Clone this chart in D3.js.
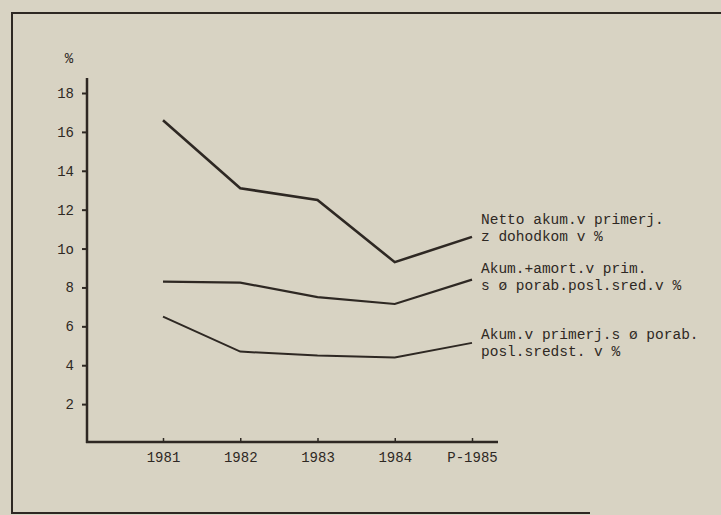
<!DOCTYPE html>
<html><head><meta charset="utf-8">
<script src="https://cdn.jsdelivr.net/npm/d3@7"></script>
<style>
html,body{margin:0;padding:0;background:#d8d3c3;}
svg{display:block;}
text{font-family:"Liberation Mono","DejaVu Sans Mono",monospace;fill:#2e2823;}
</style></head>
<body>
<svg id="chart" width="721" height="515"></svg>
<script>
const years = ["1981","1982","1983","1984","P-1985"];
const yTickValues = [2,4,6,8,10,12,14,16,18];
const yTickLabels = ["2","4","6","8","1o","12","14","16","18"];
const seriesNetto = [16.6, 13.1, 12.5, 9.3, 10.6];
const seriesAmort = [8.3, 8.25, 7.5, 7.15, 8.4];
const seriesAkum  = [6.5, 4.7, 4.5, 4.4, 5.15];
const labelNetto = ["Netto akum.v primerj.", "z dohodkom v %"];
const labelAmort = ["Akum.+amort.v prim.", "s ø porab.posl.sred.v %"];
const labelAkum  = ["Akum.v primerj.s ø porab.", "posl.sredst. v %"];

const svg = d3.select("#chart");
const ink = "#2e2823";

// frame
svg.append("path").attr("d","M721,13 L12,13 L12,513 L590,513")
  .attr("fill","none").attr("stroke",ink).attr("stroke-width",2);

const x = d3.scalePoint().domain(years).range([163,472]);
const y = d3.scaleLinear().domain([0,18]).range([443,93]);

// y axis
svg.append("line").attr("x1",87).attr("x2",87).attr("y1",78).attr("y2",443)
  .attr("stroke",ink).attr("stroke-width",2.5);
// x axis
svg.append("line").attr("x1",86).attr("x2",498).attr("y1",442).attr("y2",442)
  .attr("stroke",ink).attr("stroke-width",2.5);

const yAxis = d3.axisLeft(y).tickValues(yTickValues)
  .tickFormat((d,i)=>yTickLabels[i]).tickSize(5).tickPadding(8);
const gy = svg.append("g").attr("transform","translate(87,0)").call(yAxis);
gy.select(".domain").remove();
gy.selectAll(".tick line").attr("stroke",ink).attr("stroke-width",2);
gy.selectAll(".tick text").attr("font-size","14px").attr("fill",ink)
  .attr("font-family","Liberation Mono, monospace");

const xAxis = d3.axisBottom(x).tickSize(-4).tickPadding(10);
const gx = svg.append("g").attr("transform","translate(0,442)").call(xAxis);
gx.select(".domain").remove();
gx.selectAll(".tick line").attr("stroke",ink).attr("stroke-width",1.5);
gx.selectAll(".tick text").attr("font-size","14px").attr("fill",ink)
  .attr("font-family","Liberation Mono, monospace");

svg.append("text").attr("x",69).attr("y",63).attr("text-anchor","middle")
  .attr("font-size","14px").text("%");

const line = d3.line().x((d,i)=>x(years[i])).y(d=>y(d));
[[seriesNetto,2.6],[seriesAmort,2.2],[seriesAkum,2]].forEach(([s,w])=>{
  svg.append("path").datum(s).attr("d",line).attr("fill","none")
    .attr("stroke",ink).attr("stroke-width",w).attr("stroke-linejoin","miter");
});

function label(lines, y0){
  lines.forEach((t,i)=>{
    svg.append("text").attr("x",481).attr("y",y0+i*16.5)
      .attr("font-size","14.5px").text(t);
  });
}
label(labelNetto, 224);
label(labelAmort, 273);
label(labelAkum, 339);
</script>
</body></html>
